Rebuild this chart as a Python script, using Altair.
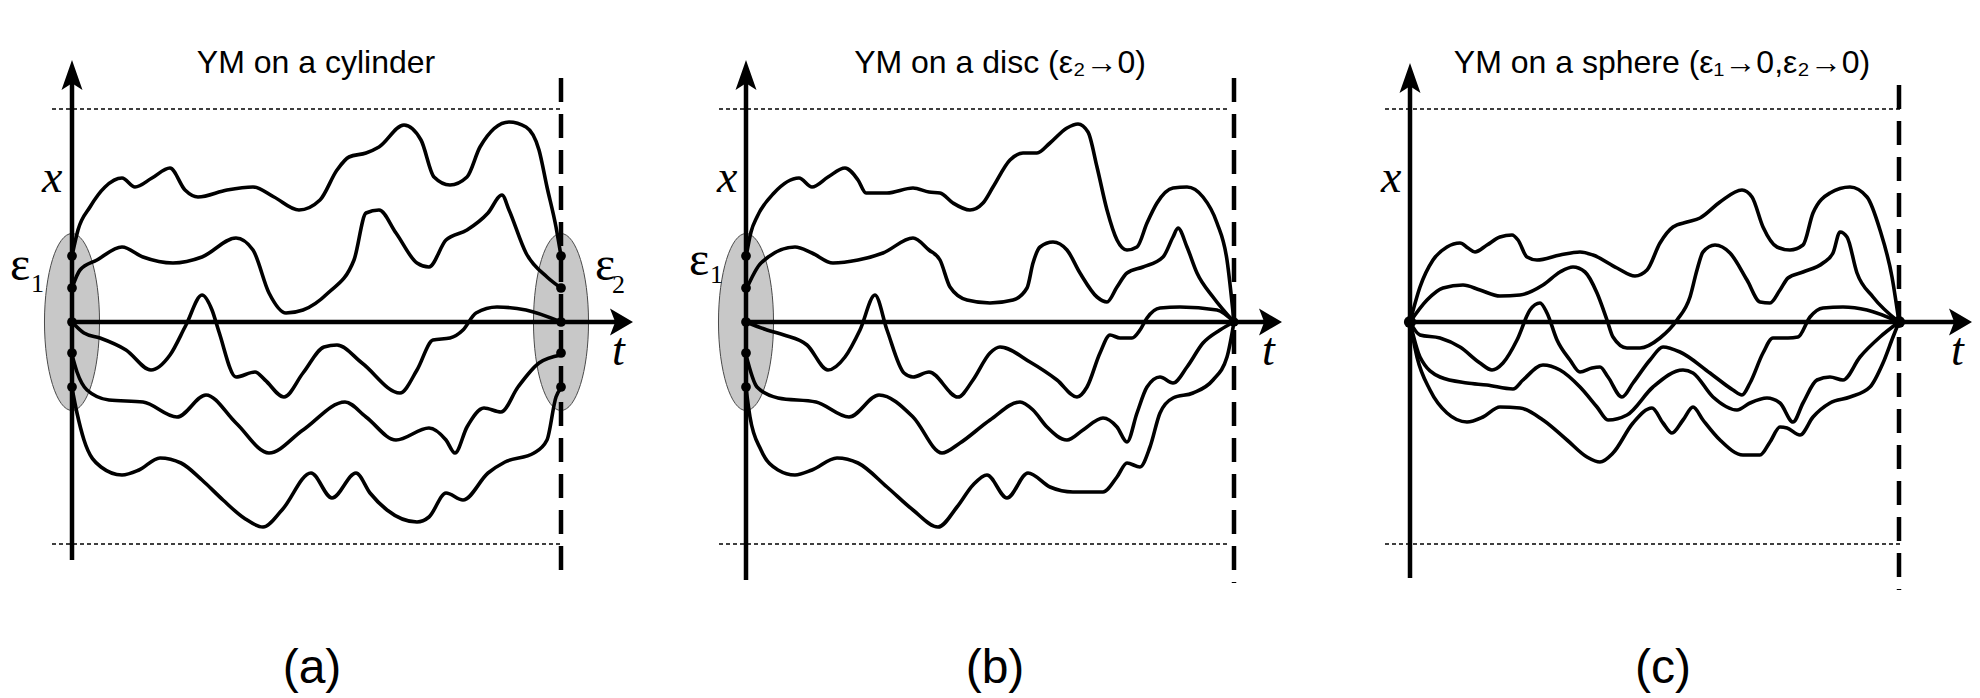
import altair as alt
import pandas as pd

# ---------------- sample paths: (time t, displacement x), arbitrary units ----------------
# panel (a): YM on a cylinder
a1 = [(0,66),(6,92),(18,115),(33,135),(50,144),(63,135),(80,144),(98,154),(113,132),(126,125),(155,132),(181,135),(202,125),(227,112),(248,122),(265,152),(277,165),(294,169),(307,175),(332,197),(349,182),(362,145),(378,137),(395,145),(408,175),(437,200),(454,195),(467,172),(475,135),(484,95),(489,66)]
a2 = [(0,34),(8,52),(25,62),(50,75),(71,65),(101,59),(130,65),(164,84),(181,72),(197,29),(214,9),(231,12),(256,29),(282,62),(294,109),(307,112),(324,89),(345,59),(357,55),(374,82),(395,92),(416,109),(430,127),(437,112),(454,69),(475,45),(489,34)]
a3 = [(0,0),(12,-11),(28,-16),(54,-28),(79,-48),(98,-33),(114,-3),(130,27),(140,12),(147,-10),(164,-55),(183,-50),(193,-58),(212,-75),(231,-51),(252,-25),(265,-23),(290,-41),(328,-71),(345,-48),(361,-18),(378,-16),(391,-8),(404,9),(425,15),(454,12),(489,0)]
a4 = [(0,-33),(5,-50),(15,-68),(37,-78),(71,-80),(105,-95),(134,-73),(164,-101),(197,-131),(231,-108),(273,-80),(294,-95),(324,-118),(357,-106),(374,-118),(383,-131),(395,-105),(412,-86),(429,-90),(446,-65),(467,-41),(489,-33)]
a5 = [(0,-66),(5,-91),(12,-118),(29,-145),(50,-153),(67,-148),(88,-136),(109,-141),(130,-158),(151,-178),(172,-196),(191,-205),(210,-188),(239,-151),(260,-176),(284,-151),(298,-171),(315,-188),(345,-200),(357,-195),(374,-171),(391,-178),(416,-151),(433,-140),(462,-131),(475,-118),(484,-75),(489,-66)]

# panel (b): YM on a disc
b1 = [(0,65),(5,90),(11,105),(28,129),(53,144),(66,135),(82,145),(99,154),(112,142),(120,129),(141,129),(167,134),(183,130),(194,129),(207,119),(224,112),(237,119),(247,135),(264,162),(277,169),(291,169),(304,179),(321,194),(332,198),(342,190),(351,155),(361,112),(371,82),(381,72),(391,75),(401,99),(411,119),(427,134),(441,135),(457,125),(471,99),(481,62),(488,0)]
b2 = [(0,32),(15,59),(49,75),(66,69),(87,59),(112,62),(137,69),(167,84),(183,72),(194,62),(204,35),(221,22),(244,19),(267,22),(281,34),(287,59),(294,75),(307,80),(321,72),(334,49),(351,25),(361,20),(371,35),(381,49),(397,55),(417,65),(427,85),(432,94),(441,75),(451,49),(467,25),(488,0)]
b3 = [(0,0),(21,-8),(38,-13),(61,-23),(82,-48),(99,-35),(114,-8),(129,27),(141,-8),(158,-51),(167,-55),(183,-50),(212,-75),(227,-58),(244,-31),(254,-25),(284,-40),(311,-58),(331,-75),(341,-65),(354,-31),(364,-13),(374,-16),(386,-16),(394,-8),(401,4),(414,14),(434,15),(471,12),(488,0)]
b4 = [(0,-33),(11,-65),(32,-76),(70,-80),(103,-95),(133,-73),(167,-95),(196,-131),(214,-121),(244,-98),(274,-80),(287,-88),(301,-105),(321,-118),(337,-108),(357,-96),(371,-105),(381,-120),(391,-91),(401,-65),(414,-55),(427,-61),(441,-45),(457,-21),(474,-8),(488,0)]
b5 = [(0,-66),(4,-95),(15,-128),(32,-148),(49,-153),(66,-148),(91,-136),(112,-141),(141,-165),(167,-188),(192,-205),(211,-185),(227,-163),(241,-153),(261,-176),(282,-151),(304,-165),(327,-170),(357,-170),(371,-155),(381,-141),(394,-145),(404,-125),(414,-91),(427,-76),(447,-71),(467,-58),(481,-35),(488,0)]

# panel (c): YM on a sphere
c1 = [(0,0),(10,35),(23,62),(37,75),(50,79),(58,74),(65,70),(77,77),(90,85),(102,87),(108,82),(117,65),(127,62),(150,67),(170,70),(183,67),(207,54),(225,46),(237,52),(250,79),(263,95),(277,100),(290,104),(310,120),(332,132),(342,125),(353,95),(367,75),(380,72),(393,77),(403,109),(420,129),(440,135),(457,125),(470,92),(482,45),(489,0)]
c2 = [(0,0),(17,22),(33,34),(53,37),(70,32),(90,26),(110,27),(133,37),(150,50),(163,55),(175,50),(187,29),(197,2),(203,-15),(217,-26),(230,-26),(250,-16),(267,2),(280,25),(287,52),(293,70),(305,77),(320,69),(337,42),(350,20),(360,19),(370,32),(378,44),(393,50),(413,59),(423,69),(430,90),(437,85),(447,49),(463,25),(489,0)]
c3 = [(0,0),(10,-13),(30,-16),(50,-25),(70,-41),(82,-48),(93,-41),(107,-18),(120,12),(130,19),(137,9),(147,-18),(160,-38),(170,-50),(182,-46),(190,-45),(198,-55),(212,-75),(223,-61),(240,-38),(253,-25),(270,-30),(300,-51),(323,-68),(332,-73),(340,-61),(353,-31),(363,-16),(378,-16),(388,-15),(400,5),(413,14),(433,15),(457,12),(489,0)]
c4 = [(0,0),(10,-35),(30,-55),(57,-61),(77,-63),(103,-67),(113,-58),(133,-43),(150,-48),(170,-65),(187,-85),(198,-98),(217,-93),(243,-65),(273,-48),(283,-51),(303,-75),(327,-88),(340,-81),(357,-76),(370,-81),(383,-100),(393,-81),(407,-58),(420,-55),(433,-58),(450,-35),(470,-15),(489,0)]
c5 = [(0,0),(7,-35),(20,-68),(37,-91),(57,-100),(73,-95),(90,-85),(110,-86),(133,-98),(157,-118),(177,-135),(190,-140),(203,-131),(223,-101),(242,-86),(253,-101),(262,-111),(273,-98),(283,-85),(293,-98),(310,-118),(333,-133),(350,-133),(360,-120),(370,-105),(377,-106),(390,-113),(403,-95),(420,-81),(440,-75),(460,-65),(473,-41),(483,-15),(489,0)]

# boundary points on the end circles
dots_a = [66, 34, 0, -31, -65]
end_t = {"a": 489, "b": 488, "c": 489}

titles = {"a": "YM on a cylinder", "b": "YM on a disc (ε₂→0)", "c": "YM on a sphere (ε₁→0,ε₂→0)"}
labels = {"a": "(a)", "b": "(b)", "c": "(c)"}

# ---------------- styling ----------------
W, H = 660, 698
YDOM = [-376, 322]
SANS = "Liberation Sans Narrow, Arial Narrow, Liberation Sans, Arial, sans-serif"
SERIF = "Liberation Serif, Times New Roman, serif"
ELLIPSE = ("M0,-1 C0.1718,-1 0.311,-0.5523 0.311,0 C0.311,0.5523 0.1718,1 0,1 "
           "C-0.1718,1 -0.311,0.5523 -0.311,0 C-0.311,-0.5523 -0.1718,-1 0,-1 Z")
ARROW_UP = "M0,-1 L0.7,1 L0,0.55 L-0.7,1 Z"
ARROW_RIGHT = "M1,0 L-1,1.17 L-0.55,0 L-1,-1.17 Z"


def ex(field, dom):
    return alt.X(field, type="quantitative", scale=alt.Scale(domain=dom, nice=False, zero=False), axis=None)


def ey(field):
    return alt.Y(field, type="quantitative", scale=alt.Scale(domain=YDOM, nice=False, zero=False), axis=None)


def curves_layer(curves, dom):
    rows = []
    for k, c in enumerate(curves):
        for i, (t, x) in enumerate(c):
            rows.append({"curve": k, "i": i, "t": t, "x": x})
    return alt.Chart(pd.DataFrame(rows)).mark_line(
        interpolate="monotone", color="black", strokeWidth=3.6
    ).encode(x=ex("t", dom), y=ey("x"), detail="curve:N", order="i:Q")


def hrule(dom, t1, t2, x, **kw):
    df = pd.DataFrame({"t1": [t1], "t2": [t2], "x": [x]})
    return alt.Chart(df).mark_rule(color="black", **kw).encode(x=ex("t1", dom), x2="t2", y=ey("x"))


def vrule(dom, t, x1, x2, **kw):
    df = pd.DataFrame({"t": [t], "x1": [x1], "x2": [x2]})
    return alt.Chart(df).mark_rule(color="black", **kw).encode(x=ex("t", dom), y=ey("x1"), y2="x2")


def points(dom, ts, xs, **kw):
    df = pd.DataFrame({"t": ts, "x": xs})
    return alt.Chart(df).mark_point(filled=True, opacity=1, **kw).encode(x=ex("t", dom), y=ey("x"))


def text(dom, t, x, s, **kw):
    df = pd.DataFrame({"t": [t], "x": [x], "s": [s]})
    return alt.Chart(df).mark_text(baseline="alphabetic", color="black", **kw).encode(
        x=ex("t", dom), y=ey("x"), text="s:N")


def panel(key, dom, curves, vtop, vbot, harrow_tip, dotted_l, dotted_r, dash_top, dash_bot,
          ellipse_ts, left_dots, right_dots, end_dot_size, title_t, label_t, xlab_t, tlab_t, eps):
    te = end_t[key]
    layers = []
    if ellipse_ts:
        layers.append(points(dom, ellipse_ts, [0] * len(ellipse_ts), shape=ELLIPSE, size=31329,
                             fill="#c8c8c8", stroke="#4a4a4a", strokeWidth=1))
    layers.append(hrule(dom, dotted_l, dotted_r, 213, strokeWidth=1.6, strokeDash=[4, 3]))
    layers.append(hrule(dom, dotted_l, dotted_r, -222, strokeWidth=1.6, strokeDash=[4, 3]))
    layers.append(vrule(dom, te, dash_top, dash_bot, strokeWidth=4.5, strokeDash=[24, 12]))
    layers.append(curves_layer(curves, dom))
    layers.append(vrule(dom, 0, vbot, vtop - 12, strokeWidth=4.5))
    layers.append(hrule(dom, 0, harrow_tip - 10, 0, strokeWidth=4.5))
    layers.append(points(dom, [0], [vtop - 15], shape=ARROW_UP, size=900, color="black"))
    layers.append(points(dom, [harrow_tip - 11.5], [0], shape=ARROW_RIGHT, size=529, color="black"))
    if left_dots:
        layers.append(points(dom, [0] * len(left_dots), left_dots, shape="circle", size=95, color="black"))
    if right_dots:
        layers.append(points(dom, [te] * len(right_dots), right_dots, shape="circle", size=95, color="black"))
    if end_dot_size:
        pts_t = [te] if key == "b" else [0, te]
        layers.append(points(dom, pts_t, [0] * len(pts_t), shape="circle", size=end_dot_size, color="black"))
    layers.append(text(dom, title_t, 249, titles[key], font=SANS, fontSize=32, align="center"))
    layers.append(text(dom, label_t, -361, labels[key], font=SANS, fontSize=48, align="center"))
    layers.append(text(dom, xlab_t, 130, "x", font=SERIF, fontSize=46, fontStyle="italic", align="left"))
    layers.append(text(dom, tlab_t, -43, "t", font=SERIF, fontSize=46, fontStyle="italic", align="left"))
    for (et, eb, sub, st, sb) in eps:
        layers.append(text(dom, et, eb, "ε", font=SERIF, fontSize=48, align="left"))
        layers.append(text(dom, st, sb, sub, font=SERIF, fontSize=26, align="left"))
    return alt.layer(*layers).properties(width=W, height=H)


pa = panel("a", [-72, 588], [a1, a2, a3, a4, a5], vtop=262, vbot=-238, harrow_tip=561,
           dotted_l=-20, dotted_r=489, dash_top=244, dash_bot=-250,
           ellipse_ts=[0, 489], left_dots=dots_a, right_dots=dots_a, end_dot_size=0,
           title_t=244, label_t=240, xlab_t=-30, tlab_t=540,
           eps=[(-62, 42, "1", -41, 30), (523, 42, "2", 540, 29)])

pb = panel("b", [-86, 574], [b1, b2, b3, b4, b5], vtop=262, vbot=-258, harrow_tip=536,
           dotted_l=-27, dotted_r=484, dash_top=244, dash_bot=-261,
           ellipse_ts=[0], left_dots=dots_a, right_dots=[], end_dot_size=90,
           title_t=254, label_t=249, xlab_t=-29, tlab_t=516,
           eps=[(-57, 47, "1", -36, 39)])

pc = panel("c", [-90, 570], [c1, c2, c3, c4, c5], vtop=259, vbot=-256, harrow_tip=562,
           dotted_l=-25, dotted_r=490, dash_top=237, dash_bot=-268,
           ellipse_ts=[], left_dots=[], right_dots=[], end_dot_size=150,
           title_t=252, label_t=253, xlab_t=-29, tlab_t=541,
           eps=[])

chart = alt.hconcat(pa, pb, pc, spacing=0).properties(
    padding=0, background="white"
).configure_view(strokeWidth=0)

chart.save("out.html", embed_options={"renderer": "svg", "actions": False})
